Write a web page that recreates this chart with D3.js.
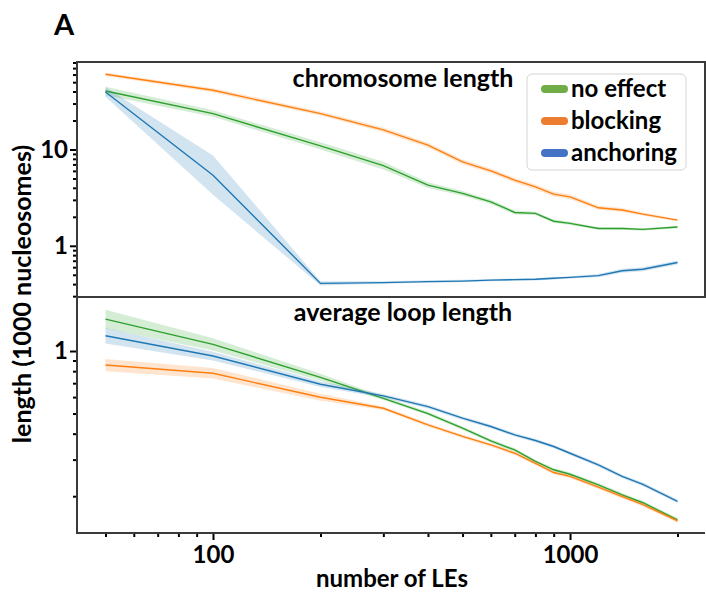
<!DOCTYPE html>
<html>
<head>
<meta charset="utf-8" />
<title>Chromosome and loop length vs number of LEs</title>
<style>
  body { margin: 0; background: #fff; }
  text { font-family: Lato, "Open Sans", sans-serif; font-weight: bold; fill: #000; }
</style>
</head>
<body>
<script src="https://d3js.org/d3.v7.min.js"></script>
<script>
// number of loop extruders (x values)
var LEs = [50, 100, 200, 300, 400, 500, 600, 700, 800, 900, 1000, 1200, 1400, 1600, 2000];

// top panel: chromosome length (1000 nucleosomes)
var chromNoEffect  = [40.5, 23.6, 10.9, 6.8, 4.26, 3.5, 2.86, 2.22, 2.17, 1.8, 1.71, 1.51, 1.51, 1.48, 1.57];
var chromBlocking  = [60.4, 41.2, 23.6, 16.0, 11.1, 7.43, 6.0, 4.8, 4.09, 3.44, 3.22, 2.48, 2.35, 2.13, 1.85];
var chromAnchoring = [39.6, 5.41, 0.407, 0.415, 0.425, 0.43, 0.44, 0.445, 0.45, 0.46, 0.47, 0.49, 0.55, 0.57, 0.67];
// spread of the shaded bands (multiplicative)
var chromNoEffectBand  = [1.11, 1.08, 1.09, 1.10, 1.07, 1.06, 1.05, 1.05, 1.04, 1.04, 1.04, 1.03, 1.03, 1.03, 1.03];
var chromBlockingBand  = [1.04, 1.05, 1.05, 1.06, 1.06, 1.06, 1.06, 1.06, 1.06, 1.06, 1.06, 1.05, 1.05, 1.04, 1.03];
var chromAnchoringBand = [1.12, 1.60, 1.05, 1.03, 1.03, 1.03, 1.03, 1.03, 1.03, 1.03, 1.03, 1.04, 1.05, 1.05, 1.05];

// bottom panel: average loop length (1000 nucleosomes)
var loopNoEffect  = [1.425, 1.077, 0.747, 0.592, 0.50, 0.425, 0.369, 0.334, 0.294, 0.268, 0.255, 0.227, 0.203, 0.186, 0.154];
var loopBlocking  = [0.856, 0.781, 0.599, 0.530, 0.441, 0.388, 0.353, 0.322, 0.288, 0.260, 0.249, 0.221, 0.199, 0.182, 0.152];
var loopAnchoring = [1.185, 0.946, 0.692, 0.608, 0.540, 0.475, 0.433, 0.395, 0.371, 0.347, 0.322, 0.283, 0.249, 0.228, 0.189];
var loopNoEffectBand  = [1.11, 1.07, 1.04, 1.02, 1.02, 1.02, 1.02, 1.02, 1.02, 1.02, 1.02, 1.02, 1.02, 1.02, 1.02];
var loopBlockingBand  = [1.07, 1.06, 1.04, 1.02, 1.02, 1.02, 1.02, 1.02, 1.02, 1.02, 1.02, 1.02, 1.02, 1.02, 1.02];
var loopAnchoringBand = [1.09, 1.05, 1.03, 1.02, 1.02, 1.02, 1.02, 1.02, 1.02, 1.02, 1.02, 1.02, 1.02, 1.02, 1.02];

var seriesNames = ["no effect", "blocking", "anchoring"];
var lineColors = ["#2ca02c", "#ff7f0e", "#1f77b4"];
var legendColors = ["#70ad47", "#ed7d31", "#4472c4"];

var xTicks = [50, 60, 70, 80, 90, 100, 200, 300, 400, 500, 600, 700, 800, 900, 1000, 2000];
var xLabels = [100, 1000];
var topTicks = [0.3, 0.4, 0.5, 0.6, 0.7, 0.8, 0.9, 1, 2, 3, 4, 5, 6, 7, 8, 9, 10, 20, 30, 40, 50, 60, 70, 80];
var topLabels = [1, 10];
var bottomTicks = [0.2, 0.3, 0.4, 0.5, 0.6, 0.7, 0.8, 0.9, 1];
var bottomLabels = [1];

var width = 706, height = 593;
var plotLeft = 77, plotRight = 705, plotTop = 62, plotMid = 297, plotBottom = 533;
var axisColor = "#3a3a3a";

var svg = d3.select("body").append("svg")
            .attr("width", width)
            .attr("height", height);

var x = d3.scaleLog().domain([41.6, 2388]).range([plotLeft, plotRight]);
var yTop = d3.scaleLog().domain([0.294, 81]).range([plotMid, plotTop]);
var yBot = d3.scaleLog().domain([0.133, 1.82]).range([plotBottom, plotMid]);

function drawPanel(y, values, bands) {
    var g = svg.append("g");
    values.forEach(function(vals, k) {
        var rows = LEs.map(function(n, i) {
            return {n: n, v: vals[i], lo: vals[i] / bands[k][i], hi: vals[i] * bands[k][i]};
        });
        var area = d3.area()
                     .x(d => x(d.n))
                     .y0(d => y(d.lo))
                     .y1(d => y(d.hi));
        var line = d3.line()
                     .x(d => x(d.n))
                     .y(d => y(d.v));
        g.append("path")
         .attr("d", area(rows))
         .attr("fill", lineColors[k])
         .attr("fill-opacity", 0.2);
        g.append("path")
         .attr("d", line(rows))
         .attr("fill", "none")
         .attr("stroke", lineColors[k])
         .attr("stroke-width", 1.4);
    });
}

drawPanel(yTop, [chromNoEffect, chromBlocking, chromAnchoring],
          [chromNoEffectBand, chromBlockingBand, chromAnchoringBand]);
drawPanel(yBot, [loopNoEffect, loopBlocking, loopAnchoring],
          [loopNoEffectBand, loopBlockingBand, loopAnchoringBand]);

// y axes
function yAxis(scale, ticks, labels) {
    var g = svg.append("g")
               .attr("transform", "translate(" + plotLeft + ",0)")
               .call(d3.axisLeft(scale)
                       .tickValues(ticks)
                       .tickSize(4)
                       .tickPadding(6)
                       .tickFormat(d => labels.indexOf(d) >= 0 ? d : ""));
    g.select(".domain").remove();
    g.selectAll(".tick line").attr("stroke", "#000").attr("stroke-width", 2)
     .attr("x2", d => labels.indexOf(d) >= 0 ? -7 : -4);
    g.selectAll(".tick text").style("font-size", "24px").style("font-family", null)
     .attr("x", -9);
}
yAxis(yTop, topTicks, topLabels);
yAxis(yBot, bottomTicks, bottomLabels);

// x axis
var xg = svg.append("g")
            .attr("transform", "translate(0," + plotBottom + ")")
            .call(d3.axisBottom(x)
                    .tickValues(xTicks)
                    .tickSize(4)
                    .tickPadding(9)
                    .tickFormat(d => xLabels.indexOf(d) >= 0 ? d : ""));
xg.select(".domain").remove();
xg.selectAll(".tick line").attr("stroke", "#000").attr("stroke-width", 2)
  .attr("y2", d => xLabels.indexOf(d) >= 0 ? 7 : 4);
xg.selectAll(".tick text").style("font-size", "24px").style("font-family", null);

// frame
svg.append("path")
   .attr("d", "M" + plotLeft + "," + plotTop + "H" + plotRight + "V" + plotMid + "H" + plotLeft + "Z")
   .attr("fill", "none").attr("stroke", axisColor).attr("stroke-width", 2);
svg.append("path")
   .attr("d", "M" + plotLeft + "," + plotMid + "V" + plotBottom + "H" + plotRight)
   .attr("fill", "none").attr("stroke", axisColor).attr("stroke-width", 2);

// panel titles
svg.append("text").attr("x", 403).attr("y", 87).attr("text-anchor", "middle")
   .style("font-size", "25px").text("chromosome length");
svg.append("text").attr("x", 403).attr("y", 321).attr("text-anchor", "middle")
   .style("font-size", "25px").text("average loop length");

// legend
var leg = svg.append("g");
leg.append("rect")
   .attr("x", 527).attr("y", 74).attr("width", 159).attr("height", 96)
   .attr("rx", 5)
   .attr("fill", "#fff").attr("stroke", "#d4d4d4").attr("stroke-width", 1);
seriesNames.forEach(function(name, i) {
    var yy = 89 + i * 32;
    leg.append("line")
       .attr("x1", 545).attr("x2", 564).attr("y1", yy).attr("y2", yy)
       .attr("stroke", legendColors[i]).attr("stroke-width", 8)
       .attr("stroke-linecap", "round");
    leg.append("text")
       .attr("x", 571).attr("y", yy).attr("dy", "0.35em")
       .style("font-size", "24px").text(name);
});

// axis titles
svg.append("text").attr("x", 392).attr("y", 587).attr("text-anchor", "middle")
   .style("font-size", "24px").text("number of LEs");
svg.append("text")
   .attr("transform", "translate(31,294) rotate(-90)")
   .attr("text-anchor", "middle")
   .style("font-size", "25px").text("length (1000 nucleosomes)");

// panel letter
svg.append("text").attr("x", 54).attr("y", 35)
   .style("font-size", "29px").text("A");
</script>
</body>
</html>
